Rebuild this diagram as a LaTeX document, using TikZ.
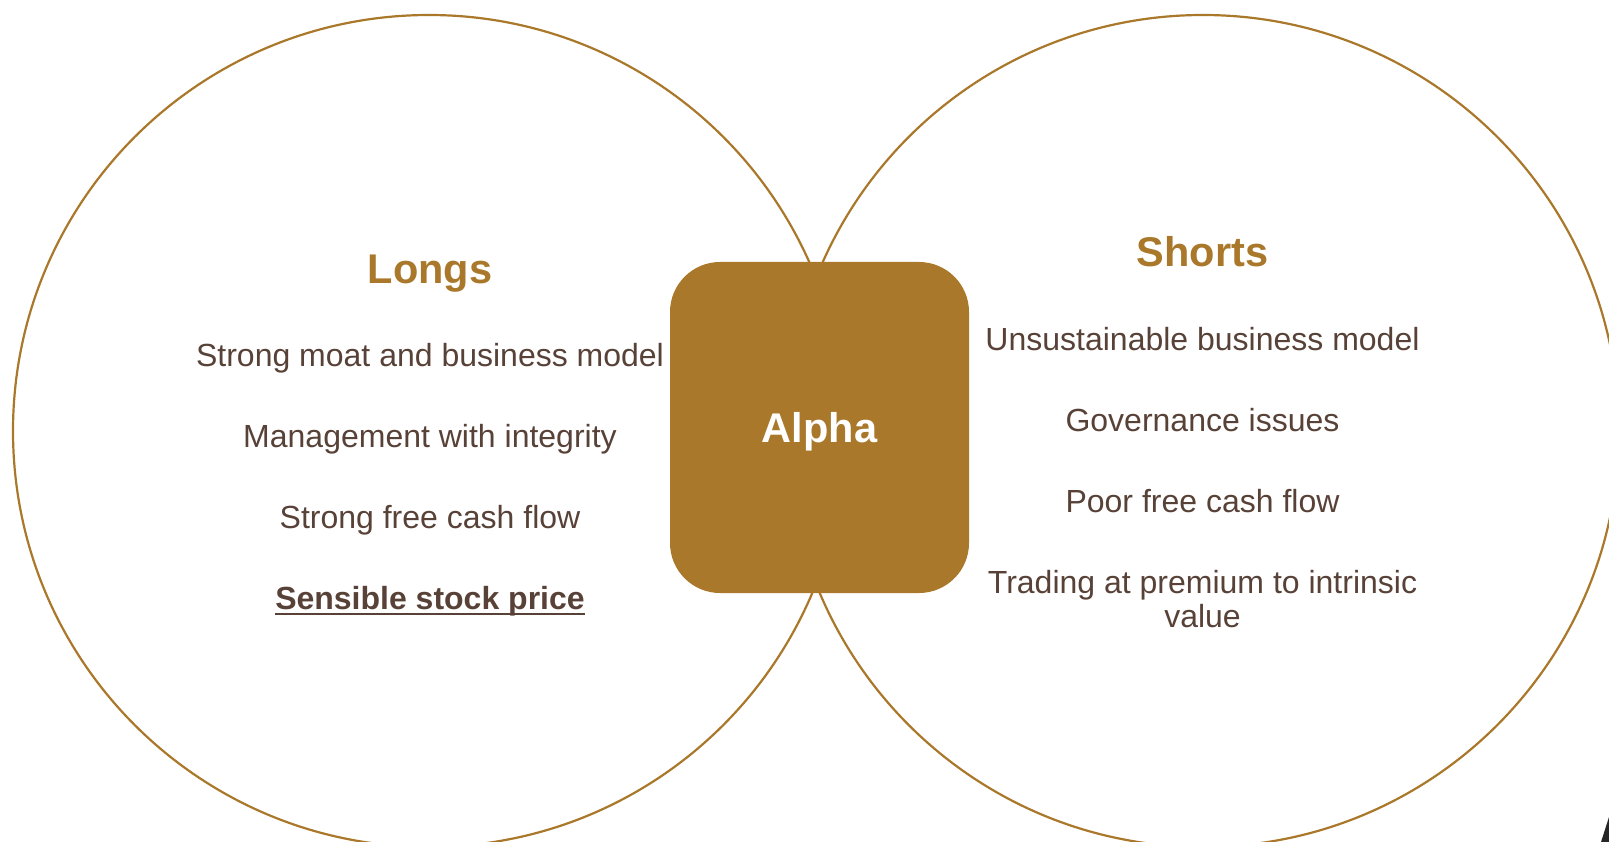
\documentclass[tikz,border=0pt]{standalone}
\usepackage{fontspec}
\setmainfont{Liberation Sans}
\definecolor{gold}{HTML}{A9782A}
\definecolor{txt}{HTML}{584238}
\begin{document}
\begin{tikzpicture}[x=1pt,y=-1pt,
  ring/.style={draw=gold, line width=2.2pt, circle, minimum size=832pt, inner sep=0pt},
  ttl/.style={text=gold, font=\fontsize{41.5}{48}\selectfont\bfseries, inner sep=0pt, anchor=base},
  item/.style={text=txt, font=\fontsize{32}{34}\selectfont, inner sep=0pt, anchor=base, align=center},
  core/.style={fill=gold, rounded corners=50pt, minimum width=299pt, minimum height=331pt,
    text=white, font=\fontsize{41.5}{48}\selectfont\bfseries, text height=29.7pt, text depth=0pt, inner sep=0pt},
]
\useasboundingbox (0,0) rectangle (1609,842);
\clip (0,0) rectangle (1609,842);

\node[ring] (lcircle) at (429,431) {};
\node[ring] (rcircle) at (1203,431) {};

\node[core] (alpha) at (819.5,427.5) {Alpha};

\node[ttl] (longs) at (430,284) {Longs};
\node[item] (l1) at (430,366) {Strong moat and business model};
\node[item] (l2) at (430,447) {Management with integrity};
\node[item] (l3) at (430,528) {Strong free cash flow};
\node[item, font=\fontsize{32}{34}\selectfont\bfseries] (l4) at (430,609) {Sensible stock price};
\draw[txt, line width=2.5pt] ([yshift=-5pt]l4.base west) -- ([yshift=-5pt]l4.base east);

\node[ttl] (shorts) at (1202.5,267) {Shorts};
\node[item] (s1) at (1202.5,350.5) {Unsustainable business model};
\node[item] (s2) at (1202.5,431) {Governance issues};
\node[item] (s3) at (1202.5,512) {Poor free cash flow};
\node[item] (s4) at (1202.5,627) {Trading at premium to intrinsic\\value};

\fill[black!85] (1601,842) -- (1609,817) -- (1609,842) -- cycle;
\end{tikzpicture}
\end{document}
